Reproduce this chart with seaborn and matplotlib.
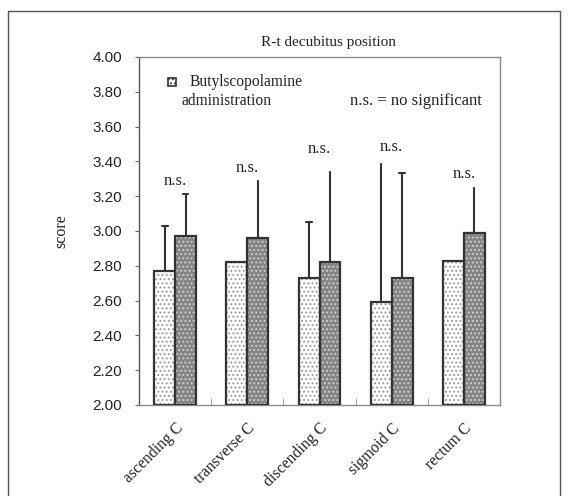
import matplotlib
matplotlib.use("Agg")
import matplotlib.pyplot as plt
import seaborn as sns
import pandas as pd
import numpy as np
from matplotlib.patches import Rectangle
from matplotlib.lines import Line2D

categories = ["ascending C", "transverse C", "discending C", "sigmoid C", "rectum C"]
groups = ["control", "Butylscopolamine administration"]
means_control = [2.77, 2.82, 2.73, 2.59, 2.83]
means_buty = [2.97, 2.96, 2.82, 2.73, 2.99]
err_top_control = [3.03, 2.82, 3.05, 3.385, 2.83]
err_top_buty = [3.21, 3.29, 3.34, 3.335, 3.25]
cap_control = [True, False, True, False, False]
cap_buty = [True, False, False, True, False]
ns_labels = ["n.s.", "n.s.", "n.s.", "n.s.", "n.s."]
ns_y = [3.29, 3.36, 3.47, 3.48, 3.33]
yticks = [2.00, 2.20, 2.40, 2.60, 2.80, 3.00, 3.20, 3.40, 3.60, 3.80, 4.00]

df = pd.DataFrame({
    "category": categories * 2,
    "group": [groups[0]] * 5 + [groups[1]] * 5,
    "score": means_control + means_buty,
})

sns.set_theme(style="white")
plt.rcParams["font.family"] = ["Liberation Serif", "DejaVu Serif"]
plt.rcParams["hatch.linewidth"] = 0.9

fig = plt.figure(figsize=(5.70, 4.96), dpi=100)
ax = fig.add_axes([139 / 570, 1 - 405 / 496, (500 - 139) / 570, (405 - 57) / 496])

sns.barplot(data=df, x="category", y="score", hue="group", order=categories,
            hue_order=groups, palette=["white", "#858585"], width=0.58, gap=0,
            errorbar=None, legend=False, ax=ax, saturation=1)

hatch_colors = ["#9a9a9a", "#d0d0d0"]
face_colors = ["white", "#858585"]
tops = [err_top_control, err_top_buty]
means = [means_control, means_buty]
caps = [cap_control, cap_buty]
for gi, cont in enumerate(ax.containers):
    for ci, bar in enumerate(cont):
        bar.set_facecolor(face_colors[gi])
        bar.set_hatch("....")
        bar.set_edgecolor(hatch_colors[gi])
        bar.set_linewidth(0)
        x0, w = bar.get_x(), bar.get_width()
        ax.add_patch(Rectangle((x0, 2.0), w, means[gi][ci] - 2.0, fill=False,
                               edgecolor="#333333", linewidth=1.6, zorder=3))
        xc = x0 + w / 2
        top = tops[gi][ci]
        m = means[gi][ci]
        if top > m:
            ax.plot([xc, xc], [m, top], color="#333333", lw=1.5, zorder=2.5)
            if caps[gi][ci]:
                ax.plot([xc - 0.04, xc + 0.04], [top, top], color="#333333", lw=1.5, zorder=2.5)

for i, (lab, yy) in enumerate(zip(ns_labels, ns_y)):
    ax.text(i, yy, lab, ha="center", va="center", fontsize=12, color="#222222")

ax.set_ylim(2.0, 4.0)
ax.set_xlim(-0.5, 4.5)
ax.set_yticks(yticks)
ax.set_yticklabels([f"{v:.2f}" for v in yticks],
                   fontsize=11, family=["Liberation Sans", "DejaVu Sans"], color="#222222")
ax.tick_params(axis="y", which="both", left=True, length=3, width=0.8, color="#666666", pad=9)
ax.set_xticks(range(len(categories)))
ax.set_xticklabels(categories, rotation=45, ha="right", rotation_mode="anchor",
                   fontsize=11.3, color="#222222")
ax.tick_params(axis="x", which="major", bottom=False, pad=5)
ax.set_xticks(np.arange(0.5, 4.0, 1.0), minor=True)
ax.tick_params(axis="x", which="minor", bottom=True, direction="in", length=5,
               width=0.6, color="#999999")
ax.set_xlabel("")
ax.set_ylabel("score", fontsize=11.5, color="#222222", labelpad=17)
for side, sp in ax.spines.items():
    sp.set_visible(True)
    sp.set_linewidth(1.0)
    sp.set_color("#555555" if side == "left" else "#8a8a8a")

ax.set_title("R-t decubitus position", fontsize=11, color="#222222", pad=8, x=0.525)

# legend
ax.add_patch(Rectangle((0.080, 0.916), 0.022, 0.024, transform=ax.transAxes,
                       facecolor="white", edgecolor="#333333", linewidth=1.2,
                       hatch="....", zorder=4, clip_on=False))
ax.text(0.141, 0.928, "Butylscopolamine", transform=ax.transAxes, fontsize=11.2,
        va="center", ha="left", color="#222222")
ax.text(0.119, 0.874, "administration", transform=ax.transAxes, fontsize=11.2,
        va="center", ha="left", color="#222222")
ax.text(0.950, 0.874, "n.s. = no significant", transform=ax.transAxes, fontsize=12,
        va="center", ha="right", color="#222222")

# outer frame
fig.add_artist(Line2D([8 / 570, 8 / 570], [1 - 11 / 496, -0.01], transform=fig.transFigure, color="#555555", lw=1))
fig.add_artist(Line2D([8 / 570, 560 / 570], [1 - 11 / 496, 1 - 11 / 496], transform=fig.transFigure, color="#555555", lw=1))
fig.add_artist(Line2D([560 / 570, 560 / 570], [1 - 11 / 496, -0.01], transform=fig.transFigure, color="#555555", lw=1))

fig.savefig("out.png", dpi=100)
